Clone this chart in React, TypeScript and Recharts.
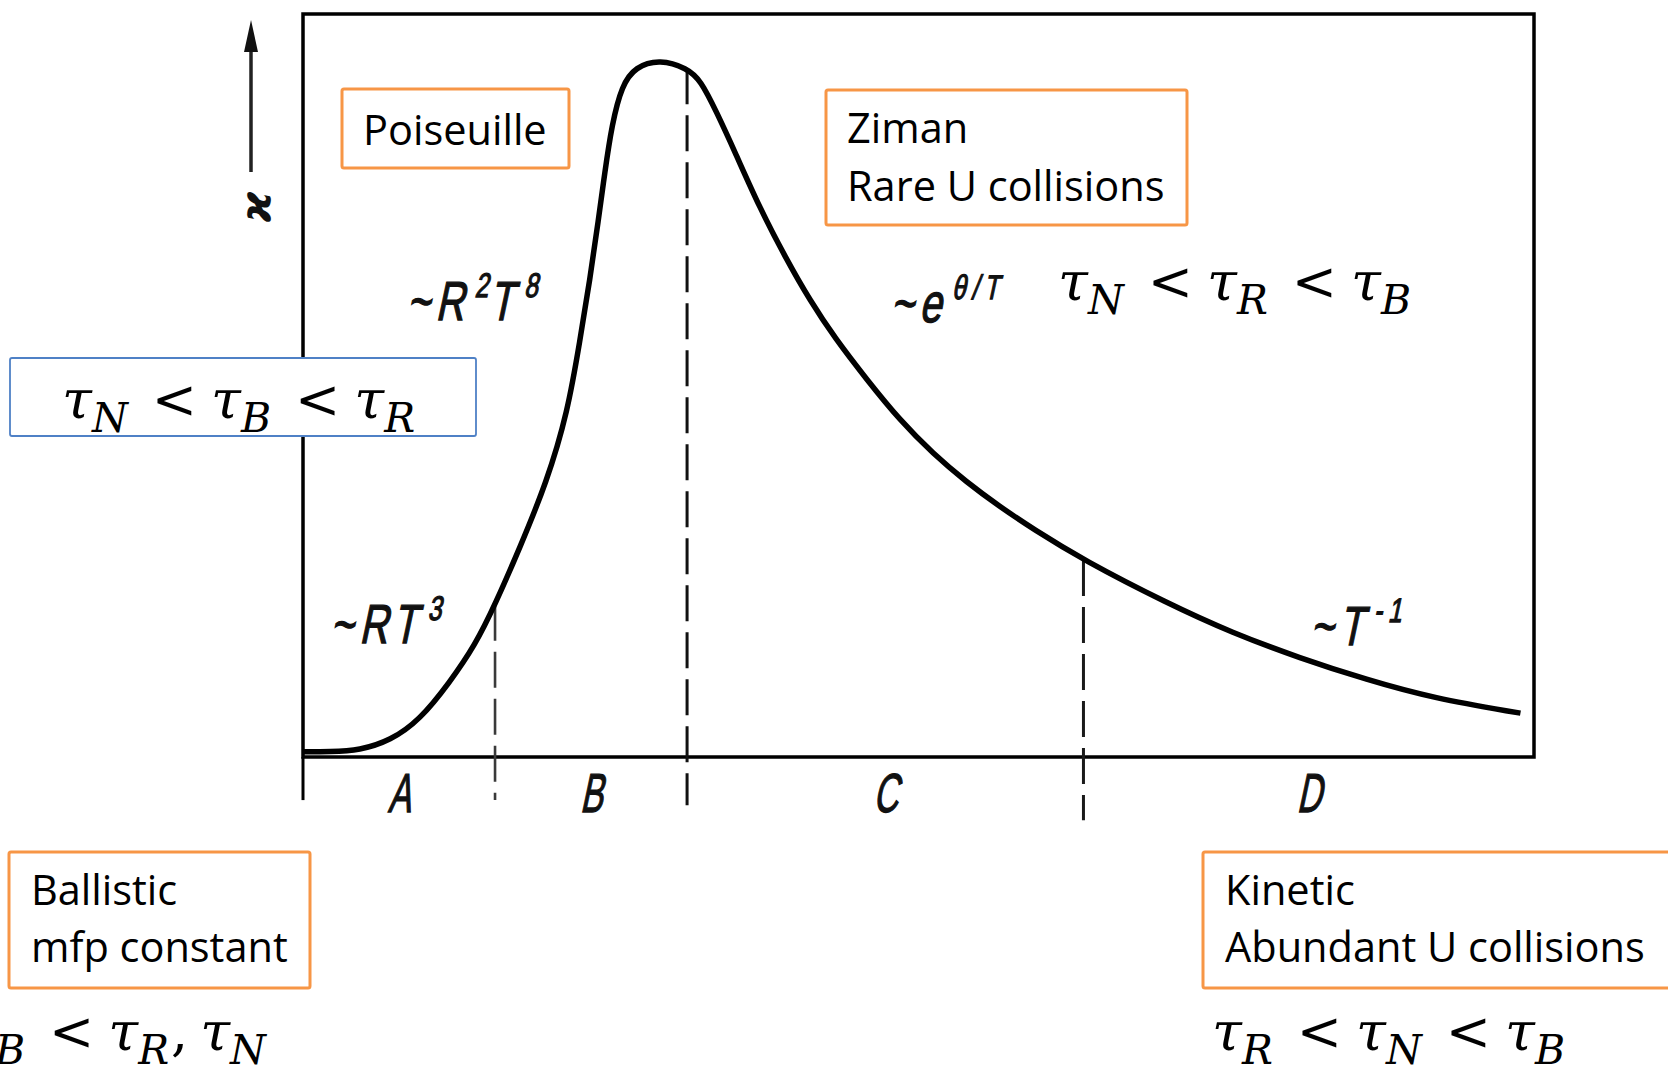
import React from "react";
import {
  LineChart,
  Line,
  XAxis,
  YAxis,
  ReferenceArea,
  ReferenceLine,
  ReferenceDot,
} from "recharts";

const W = 1668;
const H = 1065;

// thermal conductivity vs temperature, both on a 0–100 arbitrary scale
const temperature = [
  0, 2.2, 4.6, 7.1, 9.5, 11.9, 14.0, 15.6, 17.6, 19.8, 21.5, 22.5, 23.3, 24.0, 24.5, 25.1, 25.9, 27.0, 29.0,
  31.2, 32.3, 33.6, 35.1, 37.1, 39.2, 41.2, 43.2, 45.8, 48.5, 51.2, 53.9, 56.6, 59.3, 63.4, 70.2, 75.5, 81.0,
  86.4, 91.8, 98.9,
];
const kappa = [
  0.7, 0.7, 0.9, 2.2, 5.0, 10.0, 15.1, 20.5, 28.1, 37.0, 46.4, 56.1, 64.2, 72.3, 78.5, 85.2, 90.4, 92.9, 93.9,
  92.7, 91.1, 86.8, 81.4, 73.9, 67.2, 61.4, 56.4, 50.8, 45.3, 40.8, 37.0, 33.7, 30.7, 26.5, 20.7, 16.7, 13.3,
  10.4, 7.9, 5.9,
];

// regime boundaries sit on curve points (index into the arrays above)
const boundaryIdx = [7, 19, 33];
const boundaryFoot = [-5.8, -6.5, -8.5];
const boundaryInk = ["#3a3a3a", "#111", "#1a1a1a"];
const regimes = ["A", "B", "C", "D"];

// power-law hints written next to the curve: [text, superscript]
const hints: { x: number; y: number; parts: [string, string][] }[] = [
  { x: 2.2, y: 15.3, parts: [["~RT", "3"]] },
  { x: 8.4, y: 58.8, parts: [["~R", "2"], ["T", "8"]] },
  { x: 47.7, y: 58.5, parts: [["~e", "θ/T"]] },
  { x: 81.8, y: 15.1, parts: [["~T", "-1"]] },
];

type Tok = [string, string] | { op: string; pre: number; post: number };
const lt = { op: "<", pre: 24, post: 14 };
const comma = { op: ",", pre: 2, post: 12 };

const relPoiseuille: Tok[] = [["τ", "N"], lt, ["τ", "B"], lt, ["τ", "R"]];
const relZiman: Tok[] = [["τ", "N"], lt, ["τ", "R"], lt, ["τ", "B"]];
const relBallistic: Tok[] = [["τ", "B"], lt, ["τ", "R"], comma, ["τ", "N"]];
const relKinetic: Tok[] = [["τ", "R"], lt, ["τ", "N"], lt, ["τ", "B"]];

const data = temperature.map((t, i) => ({ t, k: kappa[i] }));

const ORANGE = "#F79646";
const BLUE = "#4F81C6";
const HAND = "Liberation Sans, Arial, sans-serif";

function Scribble({ cx, cy, parts, size = 55 }: any) {
  const sup = size * 0.62;
  const rise = size * 0.42;
  const spans: React.ReactNode[] = [];
  let raised = false;
  parts.forEach(([base, s]: [string, string], i: number) => {
    spans.push(
      <tspan key={`b${i}`} dy={raised ? rise : 0}>
        {base}
      </tspan>
    );
    raised = false;
    if (s) {
      spans.push(
        <tspan key={`s${i}`} fontSize={sup} dy={-rise}>
          {s}
        </tspan>
      );
      raised = true;
    }
  });
  return (
    <g transform={`translate(${cx},${cy}) skewX(-12) scale(0.72,1)`}>
      <text
        fontFamily={HAND}
        fontSize={size}
        fill="#111"
        stroke="#111"
        strokeWidth={1.3}
        letterSpacing={8}
      >
        {spans}
      </text>
    </g>
  );
}

function RegimeLetter({ cx, cy, text }: any) {
  return (
    <g transform={`translate(${cx},${cy}) skewX(-12) scale(0.62,1)`}>
      <text
        fontFamily={HAND}
        fontSize={55}
        fill="#111"
        stroke="#111"
        strokeWidth={1.3}
        textAnchor="middle"
      >
        {text}
      </text>
    </g>
  );
}

function Relation({ x, y, toks }: { x: number; y: number; toks: Tok[] }) {
  const size = 54;
  const sub = 41;
  const drop = 14;
  const spans: React.ReactNode[] = [];
  let lowered = false;
  let pending = 0;
  toks.forEach((t, i) => {
    if (Array.isArray(t)) {
      spans.push(
        <tspan key={`b${i}`} dx={pending} dy={lowered ? -drop : 0} fontStyle="italic">
          {t[0]}
        </tspan>
      );
      spans.push(
        <tspan key={`s${i}`} dy={drop} fontSize={sub} fontStyle="italic">
          {t[1]}
        </tspan>
      );
      lowered = true;
      pending = 0;
    } else {
      spans.push(
        <tspan key={`o${i}`} dx={t.pre} dy={lowered ? -drop : 0}>
          {t.op}
        </tspan>
      );
      lowered = false;
      pending = t.post;
    }
  });
  return (
    <text x={x} y={y} fontFamily="DejaVu Serif, serif" fontSize={size} fill="#000">
      {spans}
    </text>
  );
}

function Box({ x, y, w, h, lines, color = ORANGE, sw = 3 }: any) {
  return (
    <g>
      <rect x={x} y={y} width={w} height={h} rx={2} fill="#fff" stroke={color} strokeWidth={sw} />
      {(lines || []).map((l: any, i: number) => (
        <text key={i} x={l.x} y={l.y} fontFamily="Open Sans, sans-serif" fontSize={41.5} fill="#000">
          {l.text}
        </text>
      ))}
    </g>
  );
}

export default function App() {
  const bounds = [0, ...boundaryIdx.map((i) => temperature[i]), 100];
  return (
    <div style={{ position: "absolute", left: 0, top: 0, width: W, height: H, background: "#fff" }}>
      <LineChart
        width={W}
        height={H}
        data={data}
        margin={{ top: 14, right: W - 1534, bottom: H - 757, left: 303 }}
      >
        <XAxis dataKey="t" type="number" domain={[0, 100]} hide />
        <YAxis type="number" domain={[0, 100]} hide />
        <ReferenceArea
          x1={0}
          x2={100}
          y1={0}
          y2={100}
          fill="none"
          stroke="#000"
          strokeWidth={3.5}
          ifOverflow="visible"
        />
        <ReferenceLine
          segment={[{ x: 0, y: 0 }, { x: 0, y: -5.8 }]}
          stroke="#000"
          strokeWidth={3}
          ifOverflow="visible"
        />
        {boundaryIdx.map((idx, i) => (
          <ReferenceLine
            key={idx}
            segment={[
              { x: temperature[idx], y: kappa[idx] },
              { x: temperature[idx], y: boundaryFoot[i] },
            ]}
            stroke={boundaryInk[i]}
            strokeWidth={i === 0 ? 2.6 : 3}
            strokeDasharray="36 11"
            ifOverflow="visible"
          />
        ))}
        <Line
          dataKey="k"
          type="basis"
          stroke="#000"
          strokeWidth={5.5}
          dot={false}
          isAnimationActive={false}
        />
        {hints.map((h, i) => (
          <ReferenceDot
            key={`h${i}`}
            x={h.x}
            y={h.y}
            r={0}
            ifOverflow="visible"
            shape={(p: any) => <Scribble cx={p.cx} cy={p.cy} parts={h.parts} />}
          />
        ))}
        {regimes.map((r, i) => (
          <ReferenceDot
            key={r}
            x={(bounds[i] + bounds[i + 1]) / 2}
            y={-7.4}
            r={0}
            ifOverflow="visible"
            shape={(p: any) => <RegimeLetter cx={p.cx} cy={p.cy} text={r} />}
          />
        ))}
      </LineChart>

      <svg
        width={W}
        height={H}
        style={{ position: "absolute", left: 0, top: 0, pointerEvents: "none" }}
      >
        {/* y-axis arrow and κ */}
        <line x1={251} y1={46} x2={251} y2={172} stroke="#222" strokeWidth={3.5} />
        <polygon points="251,20 244,52 258,52" fill="#111" />
        <text
          x={0}
          y={0}
          transform="translate(256,207) rotate(-90)"
          fontFamily="DejaVu Sans, sans-serif"
          fontStyle="italic"
          fontWeight="bold"
          fontSize={42}
          textAnchor="middle"
          dominantBaseline="central"
          fill="#111"
        >
          ϰ
        </text>

        <Box x={342} y={89} w={227} h={79} lines={[{ x: 363, y: 145, text: "Poiseuille" }]} />
        <Box
          x={826}
          y={90}
          w={361}
          h={135}
          lines={[
            { x: 847, y: 143, text: "Ziman" },
            { x: 847, y: 201, text: "Rare U collisions" },
          ]}
        />
        <Box x={10} y={358} w={466} h={78} color={BLUE} sw={1.8} />
        <Relation x={62} y={418} toks={relPoiseuille} />
        <Relation x={1058} y={300} toks={relZiman} />

        <Box
          x={9}
          y={852}
          w={301}
          h={136}
          lines={[
            { x: 31, y: 905, text: "Ballistic" },
            { x: 31, y: 962, text: "mfp constant" },
          ]}
        />
        <Box
          x={1203}
          y={852}
          w={500}
          h={136}
          lines={[
            { x: 1225, y: 905, text: "Kinetic" },
            { x: 1225, y: 962, text: "Abundant U collisions" },
          ]}
        />
        <Relation x={-35} y={1050} toks={relBallistic} />
        <Relation x={1212} y={1050} toks={relKinetic} />
      </svg>
    </div>
  );
}
